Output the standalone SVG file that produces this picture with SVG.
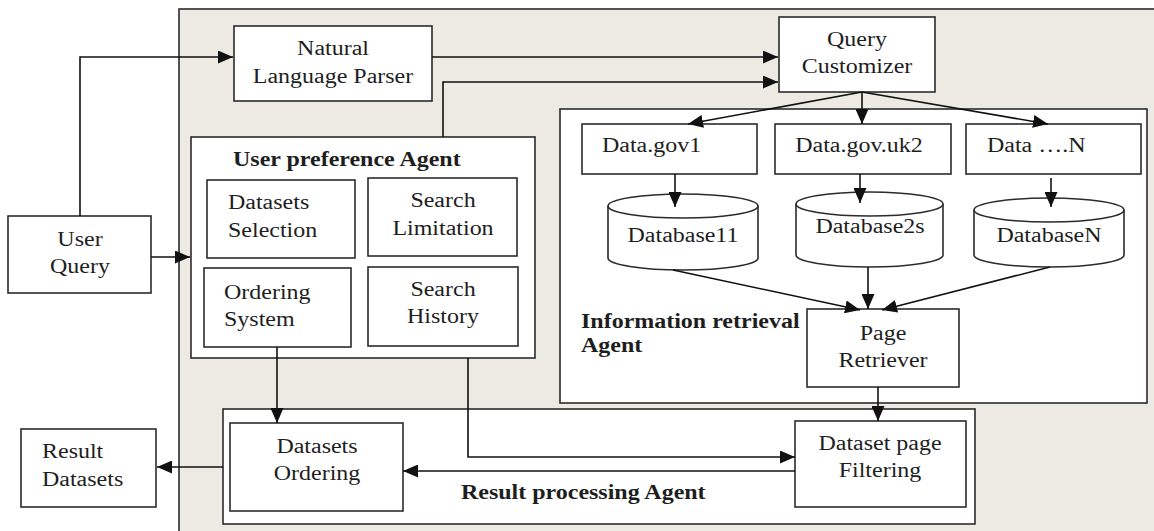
<svg xmlns="http://www.w3.org/2000/svg" width="1154" height="531" viewBox="0 0 1154 531">
<style>
.box{fill:#fff;stroke:#2b2b2b;stroke-width:1.6}
.bg{fill:#ECEAE2;stroke:#2b2b2b;stroke-width:1.6}
.t{font-family:"Liberation Serif","Times New Roman",serif;font-size:20.5px;fill:#1e1e1e}
.b{font-weight:bold}
.c{text-anchor:middle}
.ln{fill:none;stroke:#111;stroke-width:1.6}
</style>
<defs>
<marker id="ah" markerUnits="userSpaceOnUse" markerWidth="16" markerHeight="13" refX="15" refY="6.5" orient="auto">
<path d="M0,0 L15,6.5 L0,13 Z" fill="#111"/>
</marker>
</defs>
<rect width="1154" height="531" fill="#fff"/>
<rect id="container" class="bg" x="179" y="9" width="1000" height="540"/>

<g id="user-query"><rect class="box" x="8" y="216" width="143" height="77"/>
<text class="t c" transform="matrix(1.17 0 0 1 80 246)"><tspan x="0" y="0">User</tspan><tspan x="0" y="27">Query</tspan></text></g>

<g id="nlp"><rect class="box" x="234" y="26" width="198" height="75"/>
<text class="t c" transform="matrix(1.17 0 0 1 333 55)"><tspan x="0" y="0">Natural</tspan><tspan x="0" y="28">Language Parser</tspan></text></g>

<g id="query-customizer"><rect class="box" x="779" y="17" width="156" height="75"/>
<text class="t c" transform="matrix(1.17 0 0 1 857 46)"><tspan x="0" y="0">Query</tspan><tspan x="0" y="27">Customizer</tspan></text></g>

<g id="user-preference-agent"><rect class="box" x="191" y="137" width="344" height="221"/>
<text class="t b" transform="matrix(1.17 0 0 1 233 166)">User preference Agent</text></g>

<g id="datasets-selection"><rect class="box" x="207" y="180" width="148" height="78"/>
<text class="t" transform="matrix(1.17 0 0 1 228 209)"><tspan x="0" y="0">Datasets</tspan><tspan x="0" y="28">Selection</tspan></text></g>

<g id="search-limitation"><rect class="box" x="368" y="178" width="149" height="78"/>
<text class="t c" transform="matrix(1.17 0 0 1 443 207)"><tspan x="0" y="0">Search</tspan><tspan x="0" y="28">Limitation</tspan></text></g>

<g id="ordering-system"><rect class="box" x="204" y="268" width="147" height="79"/>
<text class="t" transform="matrix(1.17 0 0 1 224 299)"><tspan x="0" y="0">Ordering</tspan><tspan x="0" y="27">System</tspan></text></g>

<g id="search-history"><rect class="box" x="368" y="267" width="150" height="79"/>
<text class="t c" transform="matrix(1.17 0 0 1 443 296)"><tspan x="0" y="0">Search</tspan><tspan x="0" y="27">History</tspan></text></g>

<g id="information-retrieval-agent"><rect class="box" x="560" y="109" width="587" height="294"/>
<text class="t b" transform="matrix(1.17 0 0 1 581 328)"><tspan x="0" y="0">Information retrieval</tspan><tspan x="0" y="24">Agent</tspan></text></g>

<g id="data-gov1"><rect class="box" x="582" y="124" width="175" height="50"/>
<text class="t" transform="matrix(1.17 0 0 1 602 152)">Data.gov1</text></g>

<g id="data-gov-uk2"><rect class="box" x="775" y="124" width="176" height="50"/>
<text class="t c" transform="matrix(1.17 0 0 1 859 152)">Data.gov.uk2</text></g>

<g id="data-n"><rect class="box" x="966" y="124" width="175" height="50"/>
<text class="t" transform="matrix(1.17 0 0 1 987 152)">Data ….N</text></g>

<g id="database11">
<path class="box" d="M608,206 A75,12 0 0 1 758,206 V258 A75,12 0 0 1 608,258 Z"/>
<path class="ln" style="stroke:#2b2b2b" d="M608,206 A75,12 0 0 0 758,206"/>
<text class="t c" transform="matrix(1.17 0 0 1 683 242)">Database11</text></g>

<g id="database2s">
<path class="box" d="M796,204 A73.5,12 0 0 1 943,204 V255 A73.5,12 0 0 1 796,255 Z"/>
<path class="ln" style="stroke:#2b2b2b" d="M796,204 A73.5,12 0 0 0 943,204"/>
<text class="t c" transform="matrix(1.17 0 0 1 870 233)">Database2s</text></g>

<g id="databasen">
<path class="box" d="M974,210 A75,12 0 0 1 1124,210 V255 A75,12 0 0 1 974,255 Z"/>
<path class="ln" style="stroke:#2b2b2b" d="M974,210 A75,12 0 0 0 1124,210"/>
<text class="t c" transform="matrix(1.17 0 0 1 1049 242)">DatabaseN</text></g>

<g id="page-retriever"><rect class="box" x="807" y="309" width="152" height="78"/>
<text class="t c" transform="matrix(1.17 0 0 1 883 340)"><tspan x="0" y="0">Page</tspan><tspan x="0" y="27">Retriever</tspan></text></g>

<g id="result-processing-agent"><rect class="box" x="223" y="409" width="752" height="115"/>
<text class="t b" transform="matrix(1.17 0 0 1 461 499)">Result processing Agent</text></g>

<g id="datasets-ordering"><rect class="box" x="230" y="423" width="173" height="88"/>
<text class="t c" transform="matrix(1.17 0 0 1 317 453)"><tspan x="0" y="0">Datasets</tspan><tspan x="0" y="27">Ordering</tspan></text></g>

<g id="dataset-page-filtering"><rect class="box" x="795" y="421" width="171" height="86"/>
<text class="t c" transform="matrix(1.17 0 0 1 880 450)"><tspan x="0" y="0">Dataset page</tspan><tspan x="0" y="27">Filtering</tspan></text></g>

<g id="result-datasets"><rect class="box" x="21" y="429" width="135" height="78"/>
<text class="t" transform="matrix(1.17 0 0 1 42 458)"><tspan x="0" y="0">Result</tspan><tspan x="0" y="28">Datasets</tspan></text></g>

<g id="connectors" class="ln" marker-end="url(#ah)">
<path d="M80,216 V57 H233"/>
<path d="M151,257 H190"/>
<path d="M432,57 H778"/>
<path d="M443,137 V82 H778"/>
<path d="M862,92 L688,124"/>
<path d="M862,92 V124"/>
<path d="M862,92 L1048,124"/>
<path d="M675,174 V207"/>
<path d="M860,174 V203"/>
<path d="M1051,178 V207"/>
<path d="M673,270 L860,310"/>
<path d="M868,267 V309"/>
<path d="M1050,267 L882,310"/>
<path d="M878,387 V421"/>
<path d="M277,347 V423"/>
<path d="M468,358 V457 H795"/>
<path d="M795,471 H403"/>
<path d="M223,467 H157"/>
</g>
</svg>
